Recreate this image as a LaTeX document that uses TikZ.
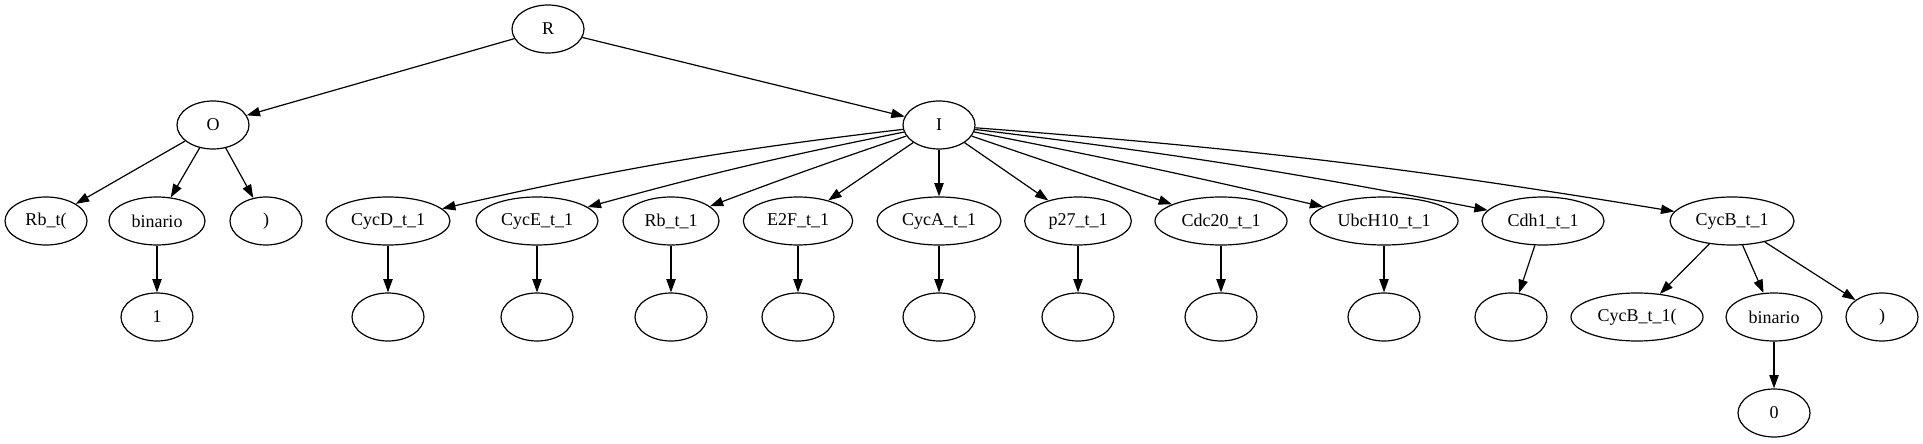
\documentclass[tikz,border=0pt]{standalone}
\usepackage{fontspec}
\setmainfont{Liberation Serif}
\newfontfamily\gvfont{Liberation Serif}
\usetikzlibrary{shapes,arrows.meta}
\tikzset{%
    tok/.style={%
        ellipse, draw, inner sep=0pt, minimum width=54pt, minimum height=36pt, font=\gvfont\fontsize{13.5}{16}\selectfont
    },
    branch/.style={%
        -{Triangle[length=10pt,width=7pt]}
    },
}
\begin{document}
\begin{tikzpicture}[x=0.75pt, y=0.75pt, line width=0.9pt]
  \useasboundingbox (0,0) rectangle (1923,443);
  % root
  \node[tok] (R) at (548,414) {R};
  \node[tok] (O) at (213,318) {O};
  \node[tok] (I) at (939,318) {I};
  \draw [branch] (R) -- (O);
  \draw [branch] (R) -- (I);

  % O branch
  \node[tok, minimum width=61.5pt] (Orb) at (46,222) {Rb\_t(};
  \node[tok, minimum width=72pt] (Obin) at (157,222) {binario};
  \node[tok] (Opar) at (266,222) {)};
  \node[tok] (Oone) at (157,126) {1};
  \draw [branch] (O) -- (Orb);
  \draw [branch] (O) -- (Obin);
  \draw [branch] (O) -- (Opar);
  \draw [branch] (Obin) -- (Oone);

  % I branch
  \node[tok, minimum width=93pt] (cycd) at (388,222) {CycD\_t\_1};
  \node[tok, minimum width=91.5pt] (cyce) at (537,222) {CycE\_t\_1};
  \node[tok, minimum width=72pt] (rb) at (671,222) {Rb\_t\_1};
  \node[tok, minimum width=82pt] (etwof) at (798,222) {E2F\_t\_1};
  \node[tok, minimum width=93pt] (cyca) at (939,222) {CycA\_t\_1};
  \node[tok, minimum width=80pt] (ptwo) at (1078,222) {p27\_t\_1};
  \node[tok, minimum width=99pt] (cdc) at (1221,222) {Cdc20\_t\_1};
  \node[tok, minimum width=111pt] (ubc) at (1384,222) {UbcH10\_t\_1};
  \node[tok, minimum width=91.5pt] (cdh) at (1543,222) {Cdh1\_t\_1};
  \node[tok, minimum width=93pt] (cycb) at (1732,222) {CycB\_t\_1};
  \draw [branch] (I) to[bend right=3] (cycd);
  \draw [branch] (I) to[bend right=2] (cyce);
  \draw [branch] (I) to[bend right=1] (rb);
  \draw [branch] (I) -- (etwof);
  \draw [branch] (I) -- (cyca);
  \draw [branch] (I) -- (ptwo);
  \draw [branch] (I) -- (cdc);
  \draw [branch] (I) to[bend left=1] (ubc);
  \draw [branch] (I) to[bend left=2] (cdh);
  \draw [branch] (I) to[bend left=2.5] (cycb);

  % empty values
  \node[tok] (vcycd) at (388,126) {};
  \node[tok] (vcyce) at (537,126) {};
  \node[tok] (vrb) at (671,126) {};
  \node[tok] (vetwof) at (798,126) {};
  \node[tok] (vcyca) at (939,126) {};
  \node[tok] (vptwo) at (1078,126) {};
  \node[tok] (vcdc) at (1221,126) {};
  \node[tok] (vubc) at (1384,126) {};
  \node[tok] (vcdh) at (1511,126) {};
  \draw [branch] (cycd) -- (vcycd);
  \draw [branch] (cyce) -- (vcyce);
  \draw [branch] (rb) -- (vrb);
  \draw [branch] (etwof) -- (vetwof);
  \draw [branch] (cyca) -- (vcyca);
  \draw [branch] (ptwo) -- (vptwo);
  \draw [branch] (cdc) -- (vcdc);
  \draw [branch] (ubc) -- (vubc);
  \draw [branch] (cdh) -- (vcdh);

  % CycB children
  \node[tok, minimum width=99pt] (bcyc) at (1637,126) {CycB\_t\_1(};
  \node[tok, minimum width=72pt] (bbin) at (1774,126) {binario};
  \node[tok] (bpar) at (1882,126) {)};
  \node[tok] (bzero) at (1774,30) {0};
  \draw [branch] (cycb) -- (bcyc);
  \draw [branch] (cycb) -- (bbin);
  \draw [branch] (cycb) -- (bpar);
  \draw [branch] (bbin) -- (bzero);
\end{tikzpicture}
\end{document}
